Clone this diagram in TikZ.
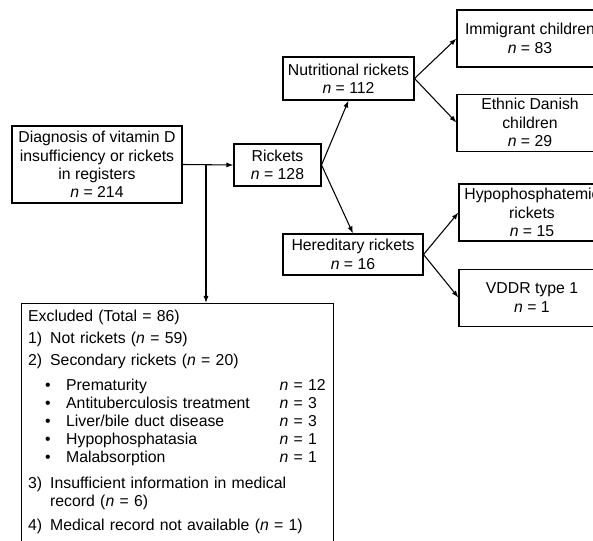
\documentclass[tikz,border=0pt]{standalone}
\usepackage{fontspec}
\setmainfont{Liberation Sans}
\usetikzlibrary{arrows.meta,positioning}

\newcommand{\nval}[1]{\textit{n} = #1}
\newcommand{\bitem}[2]{\makebox[15.75pt][l]{\textbullet}\makebox[160pt][l]{#1}\rlap{\nval{#2}}}

\tikzset{
  box/.style={draw, align=center, inner sep=2pt},
  rbox/.style={box, minimum width=109.5pt, minimum height=42.75pt}
}

\begin{document}
\begin{tikzpicture}[x=0.75pt, y=-0.75pt, thick, >={Latex[length=5.25pt,width=3.75pt]},
    font=\fontsize{11.85}{13.75}\selectfont]
    \clip (0,0) rectangle (593,541);
    \node (diag) [box, minimum width=127.5pt, minimum height=57.75pt] at (97,164.5)
    {Diagnosis of vitamin D\\insufficiency or rickets\\in registers\\\nval{214}};
    \node (rick) [box, minimum width=65.25pt, minimum height=31.5pt] at (277.5,165)
    {Rickets\\\nval{128}};
    \node (nutr) [box, minimum width=98.25pt, minimum height=32.25pt] at (348.5,78.5)
    {Nutritional rickets\\\nval{112}};
    \node (hered) [box, minimum width=105pt, minimum height=30.75pt] at (353,254.5)
    {Hereditary rickets\\\nval{16}};
    \node (immig) [rbox] at (530,38.5) {Immigrant children\\\nval{83}};
    \node (ethnic) [rbox, below=19.5pt of immig] {Ethnic Danish\\children\\\nval{29}};
    \node (hypo) [rbox] at (532,212.5) {Hypophosphatemic\\rickets\\\nval{15}};
    \node (vddr) [rbox, below=20.25pt of hypo] {VDDR type 1\\\nval{1}};
    \node (excl) [draw, anchor=north west, align=left, text width=224pt,
      inner xsep=5pt, inner ysep=4pt, text height=9.5pt, text depth=175pt,
      font=\fontsize{11.85}{13.5}\selectfont] at (21,303)
    {Excluded (Total = 86)\\[3pt]
     \makebox[16.5pt][l]{1)}Not rickets (\nval{59})\\[3pt]
     \makebox[16.5pt][l]{2)}Secondary rickets (\nval{20})\\[5.5pt]
     \hspace*{12.75pt}\bitem{Prematurity}{12}\\
     \hspace*{12.75pt}\bitem{Antituberculosis treatment}{3}\\
     \hspace*{12.75pt}\bitem{Liver/bile duct disease}{3}\\
     \hspace*{12.75pt}\bitem{Hypophosphatasia}{1}\\
     \hspace*{12.75pt}\bitem{Malabsorption}{1}\\[5.5pt]
     \makebox[16.5pt][l]{3)}Insufficient information in medical\\
     \hspace*{16.5pt}record (\nval{6})\\[4.5pt]
     \makebox[16.5pt][l]{4)}Medical record not available (\nval{1})};
    \coordinate (split) at (206,164.5);
    \draw[->] (diag.east) -- (rick.west);
    \draw[->] (split) -- (split |- excl.north);
    \draw[->] (rick.east) -- (nutr.south);
    \draw[->] (rick.east) -- (hered.north);
    \draw[->] (nutr.east) -- (immig.west);
    \draw[->] (nutr.east) -- (ethnic.west);
    \draw[->] (hered.east) -- (hypo.west);
    \draw[->] (hered.east) -- (vddr.west);
  \end{tikzpicture}
\end{document}
